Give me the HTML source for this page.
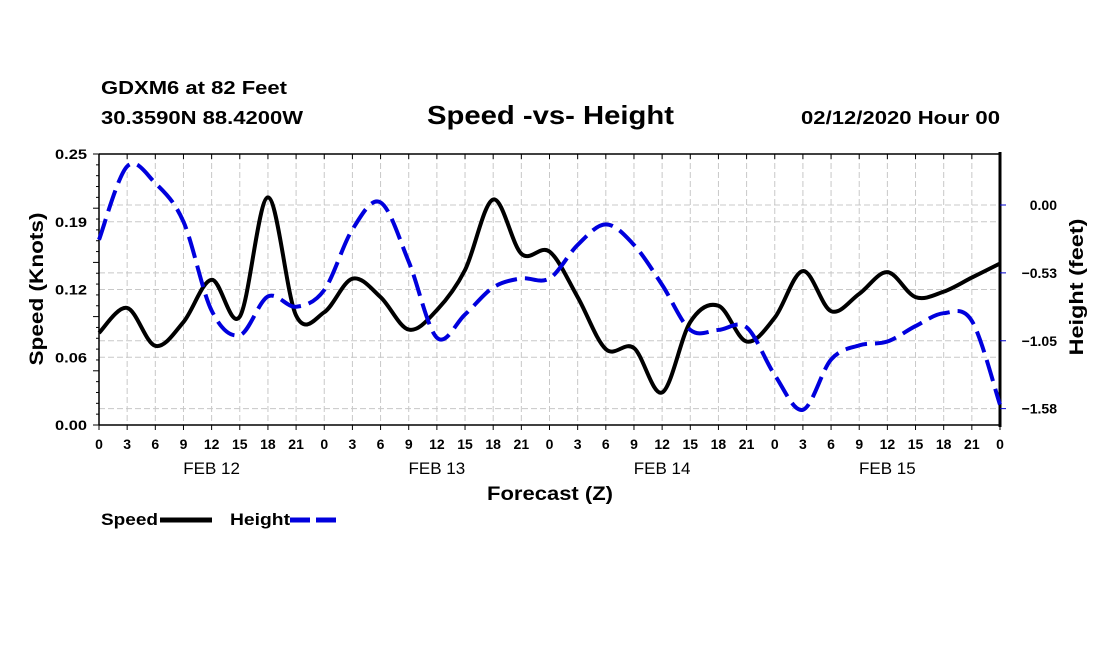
<!DOCTYPE html>
<html><head><meta charset="utf-8"><style>
body{margin:0;background:#fff;}
svg{display:block;font-family:"Liberation Sans",sans-serif;font-weight:bold;}
</style></head><body>
<svg id="chart" width="1100" height="650" xmlns="http://www.w3.org/2000/svg">
<text x="101" y="94" font-size="18" textLength="186" lengthAdjust="spacingAndGlyphs">GDXM6 at 82 Feet</text>
<text x="101" y="124" font-size="18" textLength="202" lengthAdjust="spacingAndGlyphs">30.3590N 88.4200W</text>
<text x="427" y="124" font-size="26" textLength="247" lengthAdjust="spacingAndGlyphs">Speed -vs- Height</text>
<text x="801" y="124" font-size="18" textLength="199" lengthAdjust="spacingAndGlyphs">02/12/2020 Hour 00</text>
<g id="grid"></g>
<g id="axes"></g>
<g id="series"></g>
<text x="43" y="289" font-size="19" text-anchor="middle" textLength="153" lengthAdjust="spacingAndGlyphs" transform="rotate(-90 43 289)">Speed (Knots)</text>
<text x="1083" y="287" font-size="19" text-anchor="middle" textLength="137" lengthAdjust="spacingAndGlyphs" transform="rotate(-90 1083 287)">Height (feet)</text>
<text x="487" y="500" font-size="19" textLength="126" lengthAdjust="spacingAndGlyphs">Forecast (Z)</text>
<g>
<text x="101" y="525" font-size="17" textLength="57" lengthAdjust="spacingAndGlyphs">Speed</text>
<line x1="160" y1="520" x2="212" y2="520" stroke="#000" stroke-width="5"/>
<text x="230" y="525" font-size="17" textLength="60" lengthAdjust="spacingAndGlyphs">Height</text>
<line x1="290" y1="520" x2="342" y2="520" stroke="#0000dd" stroke-width="5" stroke-dasharray="20,6"/>
</g>
</svg>
<script>
const hours=[0,3,6,9,12,15,18,21,24,27,30,33,36,39,42,45,48,51,54,57,60,63,66,69,72,75,78,81,84,87,90,93,96];
const speed=[0.085,0.108,0.073,0.095,0.134,0.100,0.210,0.101,0.104,0.135,0.118,0.088,0.106,0.143,0.208,0.158,0.160,0.118,0.070,0.071,0.030,0.095,0.110,0.077,0.099,0.142,0.105,0.121,0.141,0.118,0.123,0.136,0.149];
const height=[-0.27,0.30,0.17,-0.13,-0.82,-1.01,-0.71,-0.79,-0.66,-0.19,0.02,-0.44,-1.03,-0.85,-0.64,-0.57,-0.57,-0.31,-0.15,-0.31,-0.62,-0.97,-0.97,-0.95,-1.32,-1.59,-1.20,-1.09,-1.06,-0.94,-0.84,-0.90,-1.55];
const leftTicks=[0,0.0625,0.125,0.1875,0.25];
const leftTickLabels=["0.00","0.06","0.12","0.19","0.25"];
const rightTicks=[0,-0.527,-1.054,-1.581];
const rightTickLabels=["0.00","\u22120.53","\u22121.05","\u22121.58"];
const xTickLabels=["0","3","6","9","12","15","18","21"];
const dayLabels=["FEB 12","FEB 13","FEB 14","FEB 15"];

const X0=99,X1=1000,Y0=425,Y1=154;
const xs=h=>X0+h*(X1-X0)/96;
const ys=v=>Y0-v*(Y0-Y1)/0.25;
const yh=v=>205-v*128.8;
const NS="http://www.w3.org/2000/svg";
function mk(parent,tag,attrs){const e=document.createElementNS(NS,tag);for(const k in attrs)e.setAttribute(k,attrs[k]);document.getElementById(parent).appendChild(e);return e;}

for(let h=3;h<96;h+=3){const l=mk('grid','line',{x1:xs(h),x2:xs(h),y1:Y1,y2:Y0,stroke:'#c8c8c8','stroke-dasharray':'6,3'});

}
leftTicks.slice(1,4).forEach(v=>{const l=mk('grid','line',{x1:X0,x2:X1,y1:ys(v),y2:ys(v),stroke:'#c8c8c8','stroke-dasharray':'6,3'});

});
rightTicks.forEach(v=>{const l=mk('grid','line',{x1:X0,x2:X1,y1:yh(v),y2:yh(v),stroke:'#c8c8c8','stroke-dasharray':'6,3'});

});

let a=mk('axes','line',{x1:X0,x2:X1,y1:Y1,y2:Y1,stroke:'#000','stroke-width':1.5});


a=mk('axes','line',{x1:X0,x2:X1,y1:Y0,y2:Y0,stroke:'#000','stroke-width':1.5});


a=mk('axes','line',{x1:X0,x2:X0,y1:Y1,y2:Y0,stroke:'#000','stroke-width':1.5});


a=mk('axes','line',{x1:X1,x2:X1,y1:Y1-2,y2:Y0+2,stroke:'#000','stroke-width':3});


for(let i=0;i<=25;i++){const y=Y0-i*(Y0-Y1)/25;const t=mk('axes','line',{x1:X0-(i%5==0?6:3),x2:X0,y1:y,y2:y,stroke:'#000'});

}
leftTicks.forEach((v,i)=>{const t=mk('axes','text',{x:55,y:ys(v)+5,'font-size':14,textLength:32,lengthAdjust:'spacingAndGlyphs'});t.textContent=leftTickLabels[i];

});
rightTicks.forEach((v,i)=>{const l=mk('axes','line',{x1:X1,x2:X1+6,y1:yh(v),y2:yh(v),stroke:'#0000cc'});


const t=mk('axes','text',{x:1057,y:yh(v)+5,'font-size':14,'text-anchor':'end'});t.textContent=rightTickLabels[i];

});
for(let h=0;h<=96;h+=3){const up=mk('axes','line',{x1:xs(h),x2:xs(h),y1:Y1,y2:Y1+5,stroke:'#000'});


const dn=mk('axes','line',{x1:xs(h),x2:xs(h),y1:Y0,y2:Y0+5,stroke:'#000'});


const t=mk('axes','text',{x:xs(h),y:449,'font-size':14,'text-anchor':'middle'});t.textContent=xTickLabels[(h/3)%8];

}
dayLabels.forEach((d,i)=>{const t=mk('axes','text',{x:xs(i*24+12),y:474,'font-size':17,'text-anchor':'middle','font-weight':'normal'});t.textContent=d;

});

function path(vals,fy){const p=hours.map((h,i)=>[xs(h),fy(vals[i])]);let d='M'+p[0][0]+','+p[0][1];
for(let i=0;i<p.length-1;i++){const p0=p[Math.max(0,i-1)],p1=p[i],p2=p[i+1],p3=p[Math.min(p.length-1,i+2)];
const c1=[p1[0]+(p2[0]-p0[0])/6,p1[1]+(p2[1]-p0[1])/6],c2=[p2[0]-(p3[0]-p1[0])/6,p2[1]-(p3[1]-p1[1])/6];
d+=' C'+c1+' '+c2+' '+p2;}return d;}
const sp=mk('series','path',{d:path(speed,ys),fill:'none',stroke:'#000','stroke-width':4,'stroke-linejoin':'round'});


const hp=mk('series','path',{d:path(height,yh),fill:'none',stroke:'#0000dd','stroke-width':4,'stroke-dasharray':'22,8'});


</script>
</body></html>
